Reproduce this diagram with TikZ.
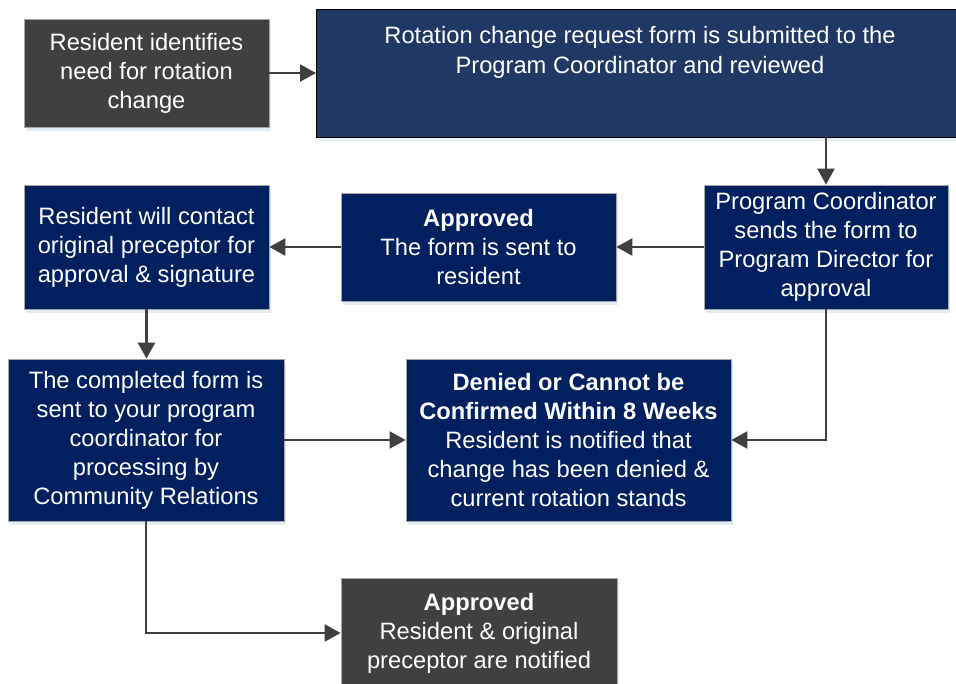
\documentclass[tikz,border=0pt]{standalone}
\usepackage{fontspec}
\setmainfont{Liberation Sans}
\usetikzlibrary{arrows.meta,shadows}
\definecolor{boxgray}{HTML}{404040}
\definecolor{boxblue}{HTML}{002060}
\definecolor{topblue}{HTML}{203864}
\definecolor{linegray}{HTML}{404040}
\definecolor{edgegray}{HTML}{A6A6A6}
\definecolor{glow}{HTML}{DCE6F2}
\begin{document}
\begin{tikzpicture}[x=1pt,y=-1pt,
  box/.style={rectangle, inner sep=0pt, draw=edgegray, line width=0.8pt,
    text=white, align=center,
    font=\fontsize{23.7}{29}\selectfont,
    drop shadow={shadow xshift=1.5pt, shadow yshift=-4pt, fill=glow, opacity=0.8}},
  graybox/.style={box, fill=boxgray},
  bluebox/.style={box, fill=boxblue},
  conn/.style={draw=linegray, line width=2.3pt,
    -{Triangle[length=16pt,width=17pt]}}]
\clip (0,0) rectangle (956,683);
\fill[white] (0,0) rectangle (956,683);

\node[graybox, minimum width=245pt, minimum height=108pt] (A) at (146.5,73)
  {Resident identifies\\need for rotation\\change};
\node[box, fill=topblue, draw=black, minimum width=660pt, minimum height=128pt,
  anchor=north west] (B) at (316,9) {};
\node[anchor=north, inner sep=0pt, text=white, align=center,
  font=\fontsize{23.7}{30}\selectfont] (Btext) at (640,26)
  {Rotation change request form is submitted to the\\Program Coordinator and reviewed};
\node[bluebox, minimum width=244pt, minimum height=124pt] (C) at (826,247)
  {Program Coordinator\\sends the form to\\Program Director for\\approval};
\node[bluebox, minimum width=275pt, minimum height=108pt] (D) at (478.5,247)
  {\textbf{Approved}\\The form is sent to\\resident};
\node[bluebox, minimum width=245pt, minimum height=124pt] (E) at (146.5,247)
  {Resident will contact\\original preceptor for\\approval \& signature};
\node[bluebox, minimum width=276pt, minimum height=162pt] (F) at (146,440)
  {The completed form is\\sent to your program\\coordinator for\\processing by\\Community Relations};
\node[bluebox, minimum width=325pt, minimum height=162pt] (G) at (568.5,440)
  {\textbf{Denied or Cannot be}\\\textbf{Confirmed Within 8 Weeks}\\Resident is notified that\\change has been denied \&\\current rotation stands};
\node[graybox, minimum width=276pt, minimum height=110pt] (H) at (479,633)
  {\textbf{Approved}\\Resident \& original\\preceptor are notified};

\draw[conn] (A.east) -- (A.east -| B.west);
\draw[conn] (B.south -| C.north) -- (C.north);
\draw[conn] (C.west) -- (C.west -| D.east);
\draw[conn] (D.west) -- (D.west -| E.east);
\draw[conn] (E.south) -- (E.south |- F.north);
\draw[conn] (F.east) -- (F.east -| G.west);
\draw[conn] (C.south) |- (G.east);
\draw[conn] (F.south) |- (H.west);
\end{tikzpicture}
\end{document}
